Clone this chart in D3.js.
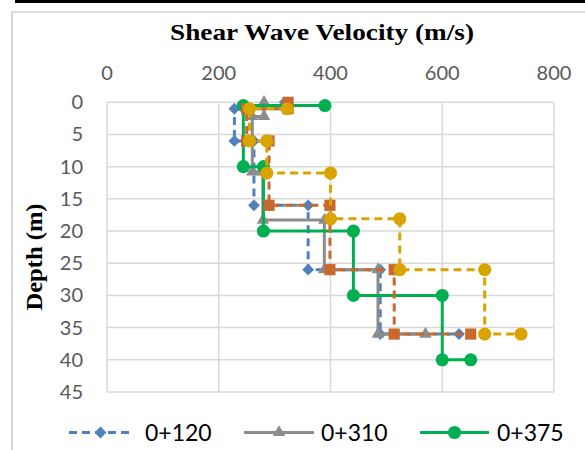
<html>
<head>
<meta charset="UTF-8">
<script src="https://cdn.jsdelivr.net/npm/d3@7"></script>
<style>
  body { margin: 0; background: #fff; }
</style>
</head>
<body>
<svg id="chart" width="585" height="450"></svg>
<script>
// axis ticks
var velocityTicks = [0, 200, 400, 600, 800];
var depthTicks = [0, 5, 10, 15, 20, 25, 30, 35, 40, 45];

// each profile: [velocity (m/s), depth (m)] step points
var p120 = [[318,0],[318,1],[228,1],[228,6],[263,6],[263,16],[360,16],[360,26],[489,26],[489,36],[630,36]];
var p310 = [[281,0],[281,2.2],[260,2.2],[260,10.8],[279,10.8],[279,18.3],[389,18.3],[389,26],[485,26],[485,36],[570,36]];
var p375 = [[390,0.5],[244,0.5],[244,10],[280,10],[280,20],[441,20],[441,30],[600,30],[600,40],[651,40]];
var pOrange = [[324,0],[324,1],[250,1],[250,6],[290,6],[290,16],[399,16],[399,26],[514,26],[514,36],[651,36]];
var pYellow = [[323,1],[255,1],[255,6],[286,6],[286,11],[400,11],[400,18.1],[524,18.1],[524,26],[676,26],[676,36],[741,36]];

var legendNames = ["0+120", "0+310", "0+375"];

var series = [
  {data: p120, color: "#4f81bd", dash: "8,5", shape: "diamond"},
  {data: p310, color: "#8c8c8c", dash: null, shape: "triangle"},
  {data: p375, color: "#00b050", dash: null, shape: "circle"},
  {data: pOrange, color: "#c8682d", dash: "8,5", shape: "square"},
  {data: pYellow, color: "#d9a300", dash: "8,5", shape: "circle"}
];

var svg = d3.select("#chart");

// page rule and chart frame
svg.append("rect").attr("x", 15).attr("y", 0).attr("width", 570).attr("height", 3).attr("fill", "#000");
svg.append("path").attr("d", "M12,460 L12,12 L600,12").attr("fill", "none").attr("stroke", "#bfbfbf").attr("stroke-width", 1.2);

var x = d3.scaleLinear().domain([0, 800]).range([107, 554]);
var y = d3.scaleLinear().domain([0, 45]).range([102.3, 392]);

// grid
svg.append("g").selectAll("line").data(velocityTicks).enter().append("line")
  .attr("x1", d => x(d)).attr("x2", d => x(d)).attr("y1", y(0)).attr("y2", y(45))
  .attr("stroke", "#d9d9d9").attr("stroke-width", 1.5);
svg.append("g").selectAll("line").data(depthTicks).enter().append("line")
  .attr("x1", x(0)).attr("x2", x(800)).attr("y1", d => y(d)).attr("y2", d => y(d))
  .attr("stroke", "#d9d9d9").attr("stroke-width", 1.5);

// tick labels
svg.append("g").selectAll("text").data(velocityTicks).enter().append("text")
  .attr("x", d => x(d)).attr("y", 73).attr("dy", "0.35em")
  .attr("text-anchor", "middle").attr("font-family", "Lato").attr("font-size", 20)
  .attr("fill", "#595959").text(d => d);
svg.append("g").selectAll("text").data(depthTicks).enter().append("text")
  .attr("x", 83).attr("y", d => y(d)).attr("dy", "0.35em")
  .attr("text-anchor", "end").attr("font-family", "Lato").attr("font-size", 20)
  .attr("fill", "#595959").text(d => d);

// titles
svg.append("text").attr("x", 322).attr("y", 40).attr("text-anchor", "middle")
  .attr("font-family", "Liberation Serif").attr("font-weight", "bold").attr("font-size", 22.5)
  .attr("textLength", 304).attr("lengthAdjust", "spacingAndGlyphs")
  .text("Shear Wave Velocity (m/s)");
svg.append("text").attr("transform", "translate(42,257) rotate(-90)").attr("text-anchor", "middle")
  .attr("font-family", "Liberation Serif").attr("font-weight", "bold").attr("font-size", 22.5)
  .attr("textLength", 107).attr("lengthAdjust", "spacingAndGlyphs")
  .text("Depth (m)");

function symbolFor(shape) {
  if (shape == "diamond") return d3.symbol().type(d3.symbolSquare).size(70)();
  if (shape == "triangle") return d3.symbol().type(d3.symbolTriangle).size(68)();
  if (shape == "square") return d3.symbol().type(d3.symbolSquare).size(125)();
  return d3.symbol().type(d3.symbolCircle).size(135)();
}
function markerTransform(shape, px, py) {
  return "translate(" + px + "," + py + ")" + (shape == "diamond" ? " rotate(45)" : "");
}

var line = d3.line().x(d => x(d[0])).y(d => y(d[1]));

series.forEach(function(s) {
  var g = svg.append("g");
  g.append("path").datum(s.data).attr("d", line)
    .attr("fill", "none").attr("stroke", s.color).attr("stroke-width", 3)
    .attr("stroke-dasharray", s.dash);
  g.selectAll("path.m").data(s.data).enter().append("path").attr("class", "m")
    .attr("d", symbolFor(s.shape))
    .attr("transform", d => markerTransform(s.shape, x(d[0]), y(d[1])))
    .attr("fill", s.color);
});

// legend
var legendX = [[69, 132, 145], [244, 314, 321], [420, 489, 497]];
legendNames.forEach(function(name, i) {
  var s = series[i];
  var lx = legendX[i];
  var g = svg.append("g");
  g.append("line").attr("x1", lx[0]).attr("x2", lx[1]).attr("y1", 432.5).attr("y2", 432.5)
    .attr("stroke", s.color).attr("stroke-width", 3).attr("stroke-dasharray", s.dash);
  g.append("path").attr("d", symbolFor(s.shape))
    .attr("transform", markerTransform(s.shape, (lx[0] + lx[1]) / 2, 432.5))
    .attr("fill", s.color);
  g.append("text").attr("x", lx[2]).attr("y", 432.5).attr("dy", "0.35em")
    .attr("font-family", "Lato").attr("font-size", 23).attr("fill", "#000")
    .text(name);
});
</script>
</body>
</html>
